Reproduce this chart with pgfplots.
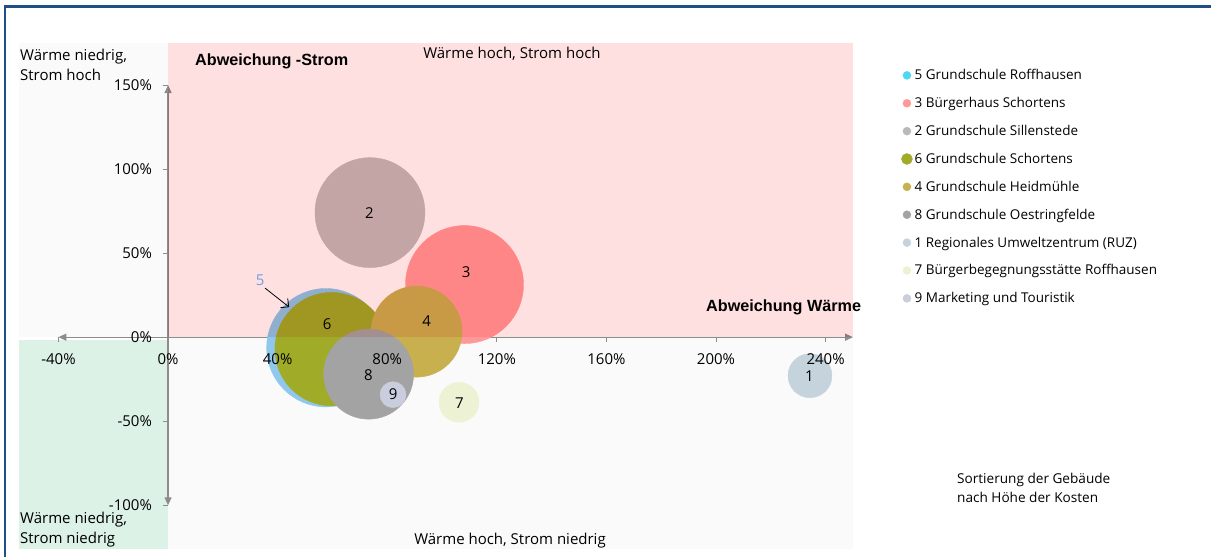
\documentclass[border=0pt]{standalone}
\usepackage{fontspec}
\setmainfont{Open Sans}
\newfontfamily\arial{Liberation Sans}
\usepackage{pgfplots}
\pgfplotsset{compat=1.18}
\usetikzlibrary{arrows.meta}

\definecolor{frame}{HTML}{1F4E89}
\definecolor{pinkbg}{HTML}{FFE0E0}
\definecolor{greenbg}{HTML}{DDF2E6}
\definecolor{graybg}{HTML}{FAFAFA}
\definecolor{axgray}{HTML}{8C8C8C}
\definecolor{c5}{HTML}{8FC8EC}
\definecolor{c5leg}{HTML}{4DD8F2}
\definecolor{c5lab}{HTML}{6F9FE0}
\definecolor{c3}{HTML}{FF9999}
\definecolor{c2}{HTML}{C4BCBC}
\definecolor{c6}{HTML}{A0AC28}
\definecolor{c4}{HTML}{C8B04F}
\definecolor{c8}{HTML}{A3A3A3}
\definecolor{c1}{HTML}{C5D3DD}
\definecolor{c7}{HTML}{EEF2D5}
\definecolor{c9}{HTML}{CACDDE}

\newcommand\f{\fontsize{15}{20}\selectfont}

\begin{document}
\begin{tikzpicture}[x=1pt,y=1pt]
\path[use as bounding box] (0,0) rectangle (1211,557);
\fill[white] (0,0) rectangle (1211,557);
\draw[frame, line width=2.2pt] (5,0) -- (5,550.5) -- (1211,550.5);

\begin{axis}[
  at={(19pt,8pt)}, anchor=south west,
  scale only axis, width=834pt, height=506pt,
  xmin=-54.4, xmax=250, ymin=-126, ymax=175,
  axis line style={draw=none}, xtick=\empty, ytick=\empty,
  clip=false,
  legend cell align=left,
  legend image code/.code={\fill[#1] (0pt,0pt) circle (4pt);},
  legend style={draw=none, fill=none, at={(1.054,0.956)}, anchor=north west,
    font=\fontsize{13.5}{15}\selectfont, row sep=12.1pt},
]
% backgrounds
\fill[graybg] (axis cs:-54.4,0) rectangle (axis cs:0,175);
\fill[graybg] (axis cs:0,-126) rectangle (axis cs:250,0);
\fill[greenbg] (axis cs:-54.4,-126) rectangle (axis cs:0,-1.8);
% axes and ticks
\draw[axgray, line width=1.3pt, {Triangle[length=8pt,width=7pt]}-{Triangle[length=8pt,width=7pt]}] (axis cs:-40,0) -- (axis cs:250,0);
\draw[axgray, line width=1.3pt, {Triangle[length=8pt,width=7pt]}-{Triangle[length=8pt,width=7pt]}] (axis cs:0,-100) -- (axis cs:0,150);
\pgfplotsinvokeforeach{-40,0,40,80,120,160,200,240}{
  \draw[axgray, line width=1pt] (axis cs:#1,0) -- ++(0pt,-5pt);
  \coordinate (xt#1) at (axis cs:#1,0);
}
\pgfplotsinvokeforeach{-100,-50,0,50,100,150}{
  \draw[axgray, line width=1pt] (axis cs:0,#1) -- ++(-5pt,0pt);
  \coordinate (yt#1) at (axis cs:0,#1);
}
\coordinate (pinkA) at (axis cs:0,0);
\coordinate (pinkB) at (axis cs:250,175);
\coordinate (l6) at (axis cs:58.1,7.6);
\coordinate (l4) at (axis cs:94.4,9.5);
\coordinate (l3) at (axis cs:108.8,38.9);
\coordinate (l2) at (axis cs:73.5,73.6);
\coordinate (l8) at (axis cs:73.1,-22.6);
\coordinate (l9) at (axis cs:82.2,-34.1);
\coordinate (l7) at (axis cs:106.3,-39.1);
\coordinate (l1) at (axis cs:234.1,-23.2);
\coordinate (l5) at (axis cs:33.6,33.9);
\coordinate (a5s) at (axis cs:35.4,29.2);
\coordinate (a5e) at (axis cs:44.2,17.9);

\addplot[only marks, mark=*, mark size=59.2pt, color=c5, mark options={draw=none, fill=c5},
  legend image code/.code={\fill[c5leg] (0pt,0pt) circle (4pt);}]
  coordinates {(57.6,-6.25)};
\addlegendentry{5 Grundschule Roffhausen}
\addplot[only marks, mark=*, mark size=59pt, color=c3, mark options={draw=none, fill=c3}]
  coordinates {(108.2,31.3)};
\addlegendentry{3 Bürgerhaus Schortens}
\addplot[only marks, mark=*, mark size=55pt, color=c2, mark options={draw=none, fill=c2},
  legend image code/.code={\fill[lightgray!90!gray] (0pt,0pt) circle (4pt);}]
  coordinates {(73.7,74.1)};
\addlegendentry{2 Grundschule Sillenstede}
\addplot[only marks, mark=*, mark size=56.7pt, color=c6, mark options={draw=none, fill=c6},
  legend image code/.code={\fill[c6] (0pt,0pt) circle (5.5pt);}]
  coordinates {(59.7,-7.1)};
\addlegendentry{6 Grundschule Schortens}
\addplot[only marks, mark=*, mark size=45.5pt, color=c4, mark options={draw=none, fill=c4}]
  coordinates {(90.7,3.3)};
\addlegendentry{4 Grundschule Heidmühle}
\addplot[only marks, mark=*, mark size=45pt, color=c8, mark options={draw=none, fill=c8}]
  coordinates {(73.2,-22.0)};
\addlegendentry{8 Grundschule Oestringfelde}
\addplot[only marks, mark=*, mark size=22pt, color=c1, mark options={draw=none, fill=c1}]
  coordinates {(234.3,-22.9)};
\addlegendentry{1 Regionales Umweltzentrum (RUZ)}
\addplot[only marks, mark=*, mark size=20pt, color=c7, mark options={draw=none, fill=c7}]
  coordinates {(106.2,-38.7)};
\addlegendentry{7 Bürgerbegegnungsstätte Roffhausen}
\addplot[only marks, mark=*, mark size=13pt, color=c9, mark options={draw=none, fill=c9}]
  coordinates {(82.1,-34.2)};
\addlegendentry{9 Marketing und Touristik}
\end{axis}

% pink quadrant (multiplied over bubbles)
\fill[pinkbg, blend mode=multiply] (pinkA) rectangle (pinkB);

% tick labels
\foreach \t in {-40,0,40,80,120,160,200,240}
  \node[font=\f, inner sep=0pt, yshift=-22pt] at (xt\t) {\t\%};
\foreach \t in {-100,-50,0,50,100,150}
  \node[font=\f, inner sep=0pt, anchor=east, xshift=-16pt] at (yt\t) {\t\%};

% bubble labels
\foreach \n in {6,4,3,2,8,9,7,1}
  \node[font=\f] at (l\n) {\n};
\node[font=\f, text=c5lab] at (l5) {5};
\draw[black, line width=0.8pt, -{Straight Barb[length=6pt]}] (a5s) -- (a5e);

\node[anchor=west, align=left, inner sep=0pt, font=\f] at (20,492) {Wärme niedrig,\\Strom hoch};
\node[anchor=west, inner sep=0pt, font=\arial\bfseries\fontsize{16.2}{19}\selectfont] at (195,496) {Abweichung -Strom};
\node[inner sep=0pt, font=\f] at (512,503) {Wärme hoch, Strom hoch};
\node[anchor=west, inner sep=0pt, font=\arial\bfseries\fontsize{16.2}{19}\selectfont] at (706,250) {Abweichung Wärme};
\node[inner sep=0pt, font=\f] at (510,16) {Wärme hoch, Strom niedrig};
\node[anchor=west, align=left, inner sep=0pt, font=\f] at (20,27) {Wärme niedrig,\\Strom niedrig};
\node[anchor=west, align=left, inner sep=0pt, font=\fontsize{13.6}{19}\selectfont] at (957,69.5) {Sortierung der Gebäude\\nach Höhe der Kosten};
\end{tikzpicture}
\end{document}
